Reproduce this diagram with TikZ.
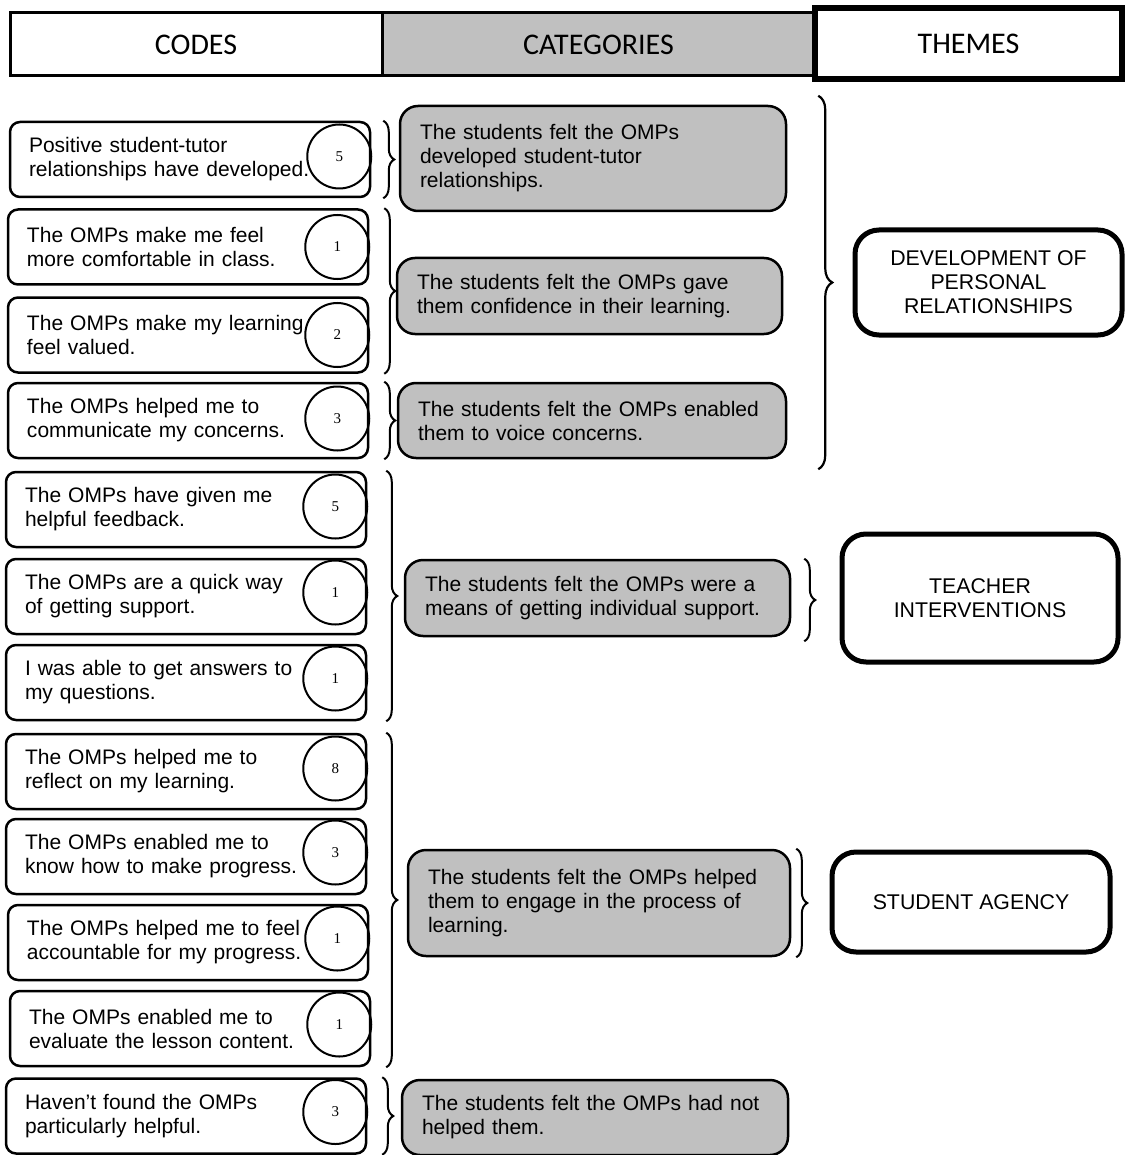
\documentclass[tikz,border=0pt]{standalone}
\usepackage{fontspec}
\setmainfont{Liberation Sans}
\newfontfamily\hdrfont{Carlito}
\newfontfamily\numfont{Liberation Serif}
\usetikzlibrary{calc,decorations.pathreplacing}
\definecolor{catgray}{HTML}{C0C0C0}
\begin{document}
\begin{tikzpicture}[x=1pt,y=-1pt,
  hdr/.style={draw,line width=3pt,minimum height=63pt,font=\hdrfont\fontsize{30}{34}\selectfont,inner sep=0pt},
  codebox/.style={draw,line width=2.5pt,rounded corners=10pt,minimum width=360pt,minimum height=75pt,
    text width=322pt,inner xsep=19pt,align=left,font=\fontsize{21}{24}\selectfont},
  numc/.style={draw,circle,line width=2pt,minimum size=64pt,inner sep=0pt,font=\numfont\fontsize{15}{17}\selectfont},
  catbox/.style={draw,fill=catgray,line width=2.5pt,rounded corners=18pt,minimum height=75pt,
    inner xsep=20pt,align=left,font=\fontsize{21}{24}\selectfont},
  thbox/.style={draw,line width=5pt,rounded corners=24pt,align=center,font=\fontsize{21.3}{24}\selectfont},
  brc/.style={decorate,decoration={brace,amplitude=11pt},line width=2pt},
  bigbrc/.style={decorate,decoration={brace,amplitude=14pt},line width=2.2pt}
]
\useasboundingbox (0,0) rectangle (1125,1155);
\fill[white] (0,0) rectangle (1125,1155);

% header
\node[hdr,minimum width=372pt] (hcodes) at (196,44.5) {CODES};
\node[hdr,fill=catgray,minimum width=433pt] (hcat) at (598.5,44.5) {CATEGORIES};
\node[draw,line width=6pt,minimum width=307pt,minimum height=71pt,inner sep=0pt,fill=white,
  font=\hdrfont\fontsize{30}{34}\selectfont] (hthemes) at (968.5,43.5) {THEMES};

% codes
\node[codebox] (c1) at (190,159.5) {Positive student-tutor\\relationships have developed.};
\node[codebox] (c2) at (188,247) {The OMPs make me feel\\more comfortable in class.};
\node[codebox] (c3) at (188,335) {The OMPs make my learning\\feel valued.};
\node[codebox] (c4) at (188,420.5) {The OMPs helped me to\\communicate my concerns.};
\node[codebox] (c5) at (186,509.5) {The OMPs have given me\\helpful feedback.};
\node[codebox] (c6) at (186,596.5) {The OMPs are a quick way\\of getting support.};
\node[codebox] (c7) at (186,682.5) {I was able to get answers to\\my questions.};
\node[codebox] (c8) at (186,771.5) {The OMPs helped me to\\reflect on my learning.};
\node[codebox] (c9) at (186,856.5) {The OMPs enabled me to\\know how to make progress.};
\node[codebox] (c10) at (188,942.5) {The OMPs helped me to feel\\accountable for my progress.};
\node[codebox] (c11) at (190,1028.5) {The OMPs enabled me to\\evaluate the lesson content.};
\node[codebox] (c12) at (186,1116) {Haven’t found the OMPs\\particularly helpful.};

% counts
\node[numc] (n1) at ($(c1.east)+(-32,-3)$) {5};
\node[numc] (n2) at ($(c2.east)+(-32,0)$) {1};
\node[numc] (n3) at ($(c3.east)+(-32,0)$) {2};
\node[numc] (n4) at ($(c4.east)+(-32,-2)$) {3};
\node[numc] (n5) at ($(c5.east)+(-32,-3)$) {5};
\node[numc] (n6) at ($(c6.east)+(-32,-4)$) {1};
\node[numc] (n7) at ($(c7.east)+(-32,-4)$) {1};
\node[numc] (n8) at ($(c8.east)+(-32,-3)$) {8};
\node[numc] (n9) at ($(c9.east)+(-32,-4)$) {3};
\node[numc] (n10) at ($(c10.east)+(-32,-4)$) {1};
\node[numc] (n11) at ($(c11.east)+(-32,-4)$) {1};
\node[numc] (n12) at ($(c12.east)+(-32,-4)$) {3};

% categories
\node[catbox,minimum width=386pt,minimum height=105pt,text width=346pt] (k1) at (593,158.5)
  {The students felt the OMPs\\developed student-tutor\\relationships.};
\node[catbox,minimum width=385pt,minimum height=76pt,text width=345pt] (k2) at (589.5,296)
  {The students felt the OMPs gave\\them confidence in their learning.};
\node[catbox,minimum width=388pt,text width=348pt] (k3) at (592,420.5)
  {The students felt the OMPs enabled\\them to voice concerns.};
\node[catbox,minimum width=385pt,minimum height=76pt,text width=345pt] (k4) at (597.5,598)
  {The students felt the OMPs were a\\means of getting individual support.};
\node[catbox,minimum width=382pt,minimum height=106pt,text width=342pt] (k5) at (599,903)
  {The students felt the OMPs helped\\them to engage in the process of\\learning.};
\node[catbox,minimum width=386pt,text width=346pt] (k6) at (595,1117.5)
  {The students felt the OMPs had not\\helped them.};

% themes
\node[thbox,minimum width=267pt,minimum height=105pt] (t1) at (988.5,282.5)
  {DEVELOPMENT OF\\PERSONAL\\RELATIONSHIPS};
\node[thbox,minimum width=276pt,minimum height=128pt] (t2) at (980,598)
  {TEACHER\\INTERVENTIONS};
\node[thbox,minimum width=278pt,minimum height=100pt] (t3) at (971,902)
  {STUDENT AGENCY};

% braces codes -> categories
\draw[brc] ($(c1.north east)+(12,0)$) -- ($(c1.south east)+(12,0)$);
\draw[brc] ($(c2.north east)+(15,0)$) -- ($(c3.south east)+(15,0)$);
\draw[brc] ($(c4.north east)+(15,0)$) -- ($(c4.south east)+(15,0)$);
\draw[brc] ($(c5.north east)+(19,0)$) -- ($(c7.south east)+(19,0)$);
\draw[brc] ($(c8.north east)+(19,0)$) -- ($(c11.south east)+(15,0)$);
\draw[brc] ($(c12.north east)+(15,0)$) -- ($(c12.south east)+(15,0)$);

% braces categories -> themes
\draw[bigbrc] ($(k1.north east)+(31,-9)$) -- ($(k3.south east)+(31,10)$);
\draw[brc] ($(k4.north east)+(13,0)$) -- ($(k4.south east)+(13,4)$);
\draw[brc] ($(k5.north east)+(5,0)$) -- ($(k5.south east)+(5,0)$);
\end{tikzpicture}
\end{document}
